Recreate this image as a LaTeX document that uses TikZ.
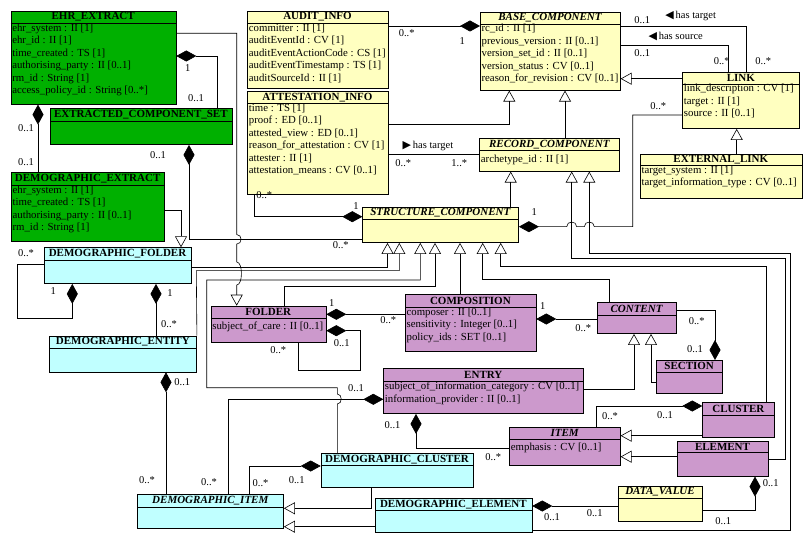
\documentclass[tikz,border=0pt]{standalone}
\usepackage{fontspec}
\setmainfont{Liberation Serif}
\newfontfamily\symfont{DejaVu Sans}
\usetikzlibrary{arrows.meta}

\definecolor{extractgreen}{RGB}{0,176,0}
\definecolor{demoblue}{RGB}{192,255,255}
\definecolor{ehrviolet}{RGB}{204,153,204}
\definecolor{baseyellow}{RGB}{255,255,192}

% name, x1, y1, x2, y2, header line, fill, title, attributes
\newcommand{\umlclass}[9]{%
  \node[classbox, fill=#7, minimum width={#4-#2}, minimum height={#5-#3}] (#1) at (#2,#3) {};
  \draw (#1.west |- #2,#6) -- (#1.east |- #2,#6);
  \node[classtitle] (#1-t) at ({(#2+#4)/2},{(#3+#6)/2}) {#8};
  \node[classattr] (#1-a) at (#2,#6) {#9};
}

\begin{document}
\begin{tikzpicture}[
    x=1pt, y=-1pt,
    line width=0.6pt,
    classbox/.style={draw=black, anchor=north west, inner sep=0pt},
    classtitle/.style={font=\bfseries\fontsize{11}{12}\selectfont, inner sep=0pt},
    classattr/.style={anchor=north west, align=left, inner xsep=1.3pt, inner ysep=0pt, font=\fontsize{10.8}{12.5}\selectfont, execute at begin node={\rule{0pt}{11.3pt}}},
    mult/.style={font=\fontsize{10.5}{12}\selectfont, inner sep=0pt},
    comp/.style={{Diamond[length=20pt,width=11pt]}-},
    gen/.style={-{Triangle[open,length=11pt,width=12pt]}},
]
\useasboundingbox (0,0) rectangle (811,545);

% Classes
\umlclass{ehr}{10.7}{10.7}{175.7}{104}{23.3}{extractgreen}{EHR\_EXTRACT}
  {ehr\_system : II [1]\\ehr\_id : II [1]\\time\_created : TS [1]\\authorising\_party : II [0..1]\\rm\_id : String [1]\\access\_policy\_id : String [0..*]}
\umlclass{ecs}{50}{108.3}{231.7}{144.3}{121}{extractgreen}{EXTRACTED\_COMPONENT\_SET}{}
\umlclass{dex}{11}{172.3}{164.3}{241}{185.7}{extractgreen}{DEMOGRAPHIC\_EXTRACT}
  {ehr\_system : II [1]\\time\_created : TS [1]\\authorising\_party : II [0..1]\\rm\_id : String [1]}
\umlclass{dfold}{44.3}{247.3}{190.7}{283.3}{260.7}{demoblue}{DEMOGRAPHIC\_FOLDER}{}
\umlclass{dent}{49.3}{335.7}{196.3}{371.7}{348.3}{demoblue}{DEMOGRAPHIC\_ENTITY}{}
\umlclass{audit}{247.3}{10.7}{387.7}{88.3}{23.3}{baseyellow}{AUDIT\_INFO}
  {committer : II [1]\\auditEventId : CV [1]\\auditEventActionCode : CS [1]\\auditEventTimestamp : TS [1]\\auditSourceId : II [1]}
\umlclass{attest}{247.3}{91}{387.7}{194}{103.3}{baseyellow}{ATTESTATION\_INFO}
  {time : TS [1]\\proof : ED [0..1]\\attested\_view : ED [0..1]\\reason\_for\_attestation : CV [1]\\attester : II [1]\\attestation\_means : CV [0..1]}
\umlclass{base}{480}{11.7}{620}{90}{24}{baseyellow}{\itshape BASE\_COMPONENT}
  {rc\_id : II [1]\\previous\_version : II [0..1]\\version\_set\_id : II [0..1]\\version\_status : CV [0..1]\\reason\_for\_revision : CV [0..1]}
\umlclass{record}{479.3}{138.3}{619.3}{171}{150.7}{baseyellow}{\itshape RECORD\_COMPONENT}
  {archetype\_id : II [1]}
\umlclass{link}{682.3}{72.3}{799.3}{128.3}{84}{baseyellow}{LINK}
  {link\_description : CV [1]\\target : II [1]\\source : II [0..1]}
\umlclass{extlink}{640}{154}{801.7}{198.3}{165.7}{baseyellow}{EXTERNAL\_LINK}
  {target\_system : II [1]\\target\_information\_type : CV [0..1]}
\umlclass{struct}{362.3}{206.7}{518.3}{242.3}{219.3}{baseyellow}{\itshape STRUCTURE\_COMPONENT}{}
\umlclass{folder}{210.7}{305.7}{325.7}{341.7}{318.3}{ehrviolet}{FOLDER}
  {subject\_of\_care : II [0..1]}
\umlclass{compo}{405}{294.3}{535.7}{351}{307.7}{ehrviolet}{COMPOSITION}
  {composer : II [0..1]\\sensitivity : Integer [0..1]\\policy\_ids : SET [0..1]}
\umlclass{content}{597.3}{302.3}{675.7}{333.3}{315}{ehrviolet}{\itshape CONTENT}{}
\umlclass{section}{656}{360}{722.3}{393.3}{372.3}{ehrviolet}{SECTION}{}
\umlclass{entry}{383.3}{368.3}{583.3}{413.3}{381.7}{ehrviolet}{ENTRY}
  {subject\_of\_information\_category : CV [0..1]\\information\_provider : II [0..1]}
\umlclass{item}{509.3}{426.7}{620}{465}{439}{ehrviolet}{\itshape ITEM}
  {emphasis : CV [0..1]}
\umlclass{cluster}{702.3}{402.3}{774.3}{436.7}{415}{ehrviolet}{CLUSTER}{}
\umlclass{element}{676.7}{440.7}{768.3}{476}{452.3}{ehrviolet}{ELEMENT}{}
\umlclass{dvalue}{617.7}{485.7}{702.3}{521}{498.3}{baseyellow}{\itshape DATA\_VALUE}{}
\umlclass{dclus}{320.7}{453.3}{473.3}{487.3}{465}{demoblue}{DEMOGRAPHIC\_CLUSTER}{}
\umlclass{delem}{375}{498.3}{531.7}{532.3}{510}{demoblue}{DEMOGRAPHIC\_ELEMENT}{}
\umlclass{ditem}{137.3}{494}{283.3}{528.3}{507.3}{demoblue}{\itshape DEMOGRAPHIC\_ITEM}{}

% Extract side
\draw[comp] (ehr.east |- 0,56) -| (ecs.north -| 217,0);
\draw[comp] (ehr.south -| 38,0) -- (dex.north -| 38,0);
\draw[gen] (ehr.east |- 0,33.3) -- (236.7,33.3) -- (236.7,234.5)
    .. controls (242.5,234.5) and (242.5,244.1) .. (236.7,244.1) -- (236.7,262)
    .. controls (243,262) and (243,285) .. (236.7,285) -- (folder.north -| 236.7,0);
\draw[comp] (ecs.south -| 189,0) |- (struct.west |- 0,239.3);
\draw[gen] (dex.east |- 0,210.7) -| (dfold.north -| 181,0);
\draw[comp] (dfold.south -| 72.3,0) -- (72.3,318.3) -| (17,264.3) -- (dfold.west |- 0,264.3);
\draw[comp] (dfold.south -| 156,0) -- (dent.north -| 156,0);

% Structure component and its kinds
\draw[gen] (dfold.east |- 0,267.3) -| (struct.south -| 387.5,0);
\draw[gen] (dent.north east) -- (196.3,270.7) -| (struct.south -| 399.3,0);
\draw[gen] (dclus.north -| 337.3,0) -- (337.3,404)
    .. controls (342.5,404) and (342.5,394) .. (337.3,394) -- (337.3,387.7)
    -| (206.7,280) -| (struct.south -| 420.3,0);
\draw[gen] (folder.north -| 284.3,0) -- (284.3,286) -| (struct.south -| 435,0);
\draw[gen] (compo.north -| 460,0) -- (struct.south -| 460,0);
\draw[gen] (content.north -| 609.3,0) -- (609.3,279.3) -| (struct.south -| 482.7,0);
\draw[gen] (cluster.north -| 766.7,0) -- (766.7,266) -| (struct.south -| 500.7,0);
\draw[gen] (element.east |- 0,459) -| (785.7,258.3) -| (record.south -| 571.7,0);
\draw[gen] (delem.east |- 0,530) -| (790.7,253.3) -| (record.south -| 589.3,0);

% Base, record, link
\draw[comp] (base.west |- 0,26) -- (audit.east |- 0,26);
\draw[gen] (attest.east |- 0,124.3) -| (base.south -| 509.3,0);
\draw (attest.east |- 0,154.3) -- (record.west |- 0,154.3);
\draw[comp] (struct.west |- 0,216.7) -| (attest.south -| 254.3,0);
\draw[gen] (record.north -| 565,0) -- (base.south -| 565,0);
\draw[gen] (struct.north -| 510.7,0) -- (record.south -| 510.7,0);
\draw[gen] (link.west |- 0,78.7) -- (base.east |- 0,78.7);
\draw (base.east |- 0,26) -| (link.north -| 746,0);
\draw (base.east |- 0,45.7) -| (link.north -| 728.3,0);
\draw[gen] (extlink.north -| 736.7,0) -- (link.south -| 736.7,0);
\draw[comp] (struct.east |- 0,226.7) -- (566.7,226.7)
    .. controls (566.7,220.5) and (576.7,220.5) .. (576.7,226.7) -- (584.3,226.7)
    .. controls (584.3,220.5) and (594.3,220.5) .. (594.3,226.7) -- (632.7,226.7)
    |- (link.west |- 0,115);

% Folder, composition, content
\draw[comp] (folder.east |- 0,314.3) -- (compo.west |- 0,314.3);
\draw[comp] (folder.east |- 0,330.7) -| (360,370) -| (folder.south -| 298.3,0);
\draw[comp] (compo.east |- 0,319) -- (content.west |- 0,319);
\draw[comp] (section.north -| 715,0) |- (content.east |- 0,310.7);
\draw[gen] (section.west |- 0,382.3) -| (content.south -| 651,0);
\draw[gen] (entry.east |- 0,389.3) -| (content.south -| 634,0);

% Entry, items
\draw[comp] (entry.west |- 0,399.3) -| (ditem.north -| 228.3,0);
\draw[comp] (entry.south -| 416,0) |- (item.west |- 0,448.3);
\draw[comp] (cluster.west |- 0,406) -| (item.north -| 596.7,0);
\draw[gen] (cluster.west |- 0,435.7) -- (item.east |- 0,435.7);
\draw[gen] (element.west |- 0,456.7) -- (item.east |- 0,456.7);
\draw[comp] (element.south -| 755,0) |- (dvalue.east |- 0,510);
\draw[comp] (delem.east |- 0,506) -- (dvalue.west |- 0,506);
\draw[comp] (dclus.west |- 0,466) -| (ditem.north -| 249.3,0);
\draw[gen] (dclus.south -| 371,0) |- (ditem.east |- 0,508.3);
\draw[gen] (delem.west |- 0,526.7) -- (ditem.east |- 0,526.7);
\draw[comp] (dent.south -| 166,0) -- (ditem.north -| 166,0);

% Multiplicities and roles
\node[mult] (l-ehrecs-1) at (187.7,67.7) {1};
\node[mult] (l-ehrecs-2) at (196,97.7) {0..1};
\node[mult] (l-ehrdex-1) at (26,128.3) {0..1};
\node[mult] (l-ehrdex-2) at (26,161.7) {0..1};
\node[mult] (l-ecssc-1) at (158,155) {0..1};
\node[mult] (l-ecssc-2) at (340.8,245) {0..*};
\node[mult] (l-audit-1) at (406.7,33.3) {0..*};
\node[mult] (l-audit-2) at (462.3,40.7) {1};
\node[mult] (l-target-1) at (403.3,163.3) {0..*};
\node[mult] (l-target-2) at (459.3,163.3) {1..*};
\node[mult] (l-target-name) at (428,145.7) {{\symfont\fontsize{11}{11}\selectfont ▶}\,has target};
\node[mult] (l-attsc-1) at (264.3,195) {0..*};
\node[mult] (l-attsc-2) at (356,206) {1};
\node[mult] (l-ltarget-1) at (642.3,20) {0..1};
\node[mult] (l-ltarget-name) at (690.7,16) {{\symfont\fontsize{11}{11}\selectfont ◀}\,has target};
\node[mult] (l-ltarget-2) at (763.3,61) {0..*};
\node[mult] (l-lsource-1) at (642.3,53.3) {0..1};
\node[mult] (l-lsource-name) at (675.7,36.7) {{\symfont\fontsize{11}{11}\selectfont ◀}\,has source};
\node[mult] (l-lsource-2) at (721.7,61) {0..*};
\node[mult] (l-sclink-1) at (534.3,211.7) {1};
\node[mult] (l-sclink-2) at (658.3,106) {0..*};
\node[mult] (l-dfself-1) at (53.3,291) {1};
\node[mult] (l-dfself-2) at (26,253.3) {0..*};
\node[mult] (l-dfdent-1) at (170,293.3) {1};
\node[mult] (l-dfdent-2) at (169,324.3) {0..*};
\node[mult] (l-foldcomp-1) at (331.7,303.3) {1};
\node[mult] (l-foldcomp-2) at (388.3,320) {0..*};
\node[mult] (l-foldself-1) at (341.7,343.3) {0..1};
\node[mult] (l-foldself-2) at (278.3,350) {0..*};
\node[mult] (l-compcont-1) at (542.7,306) {1};
\node[mult] (l-compcont-2) at (583.3,327.7) {0..*};
\node[mult] (l-contsec-1) at (696.7,320.7) {0..*};
\node[mult] (l-contsec-2) at (695,349.3) {0..1};
\node[mult] (l-entdi-1) at (356,387.7) {0..1};
\node[mult] (l-entdi-2) at (209,481.7) {0..*};
\node[mult] (l-entitem-1) at (392.5,425) {0..1};
\node[mult] (l-entitem-2) at (493.3,456.7) {0..*};
\node[mult] (l-clusitem-1) at (665,415) {0..1};
\node[mult] (l-clusitem-2) at (610,416) {0..*};
\node[mult] (l-elemdv-1) at (770.7,483.3) {0..1};
\node[mult] (l-elemdv-2) at (723.3,520.7) {0..1};
\node[mult] (l-delemdv-1) at (552,516.7) {0..1};
\node[mult] (l-delemdv-2) at (594.7,512.7) {0..1};
\node[mult] (l-dcdi-1) at (296.7,480) {0..1};
\node[mult] (l-dcdi-2) at (260.5,483.3) {0..*};
\node[mult] (l-dentdi-1) at (182.3,381.7) {0..1};
\node[mult] (l-dentdi-2) at (147,480) {0..*};

\end{tikzpicture}
\end{document}
